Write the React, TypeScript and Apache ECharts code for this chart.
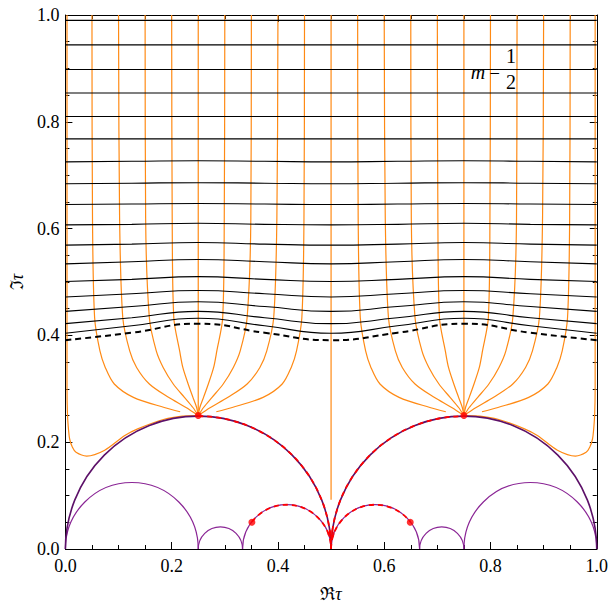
import React, { useEffect, useRef } from 'react';
import * as echarts from 'echarts';

// ---- data ----
// level curves (black): y at these x positions
const LEVEL_X = [0, 0.125, 0.25, 0.375, 0.5, 0.625, 0.75, 0.875, 1];
const LEVEL_CURVES: number[][] = [
  [0.990, 0.990, 0.990, 0.990, 0.990, 0.990, 0.990, 0.990, 0.990],
  [0.944, 0.944, 0.944, 0.944, 0.944, 0.944, 0.944, 0.944, 0.944],
  [0.898, 0.898, 0.898, 0.898, 0.898, 0.898, 0.898, 0.898, 0.898],
  [0.854, 0.854, 0.854, 0.854, 0.854, 0.854, 0.854, 0.854, 0.854],
  [0.810, 0.810, 0.810, 0.810, 0.810, 0.810, 0.810, 0.810, 0.810],
  [0.768, 0.768, 0.768, 0.768, 0.768, 0.768, 0.768, 0.768, 0.768],
  [0.725, 0.726, 0.727, 0.726, 0.725, 0.726, 0.727, 0.726, 0.725],
  [0.684, 0.685, 0.686, 0.685, 0.684, 0.685, 0.686, 0.685, 0.684],
  [0.645, 0.646, 0.647, 0.646, 0.645, 0.646, 0.647, 0.646, 0.645],
  [0.607, 0.608, 0.610, 0.608, 0.607, 0.608, 0.610, 0.608, 0.607],
  [0.569, 0.571, 0.574, 0.571, 0.569, 0.571, 0.574, 0.571, 0.569],
  [0.534, 0.538, 0.542, 0.538, 0.534, 0.538, 0.542, 0.538, 0.534],
  [0.501, 0.505, 0.510, 0.505, 0.501, 0.505, 0.510, 0.505, 0.501],
  [0.472, 0.478, 0.484, 0.478, 0.472, 0.478, 0.484, 0.478, 0.472],
  [0.445, 0.454, 0.463, 0.454, 0.445, 0.454, 0.463, 0.454, 0.445],
  [0.422, 0.433, 0.445, 0.433, 0.422, 0.433, 0.445, 0.433, 0.422],
  [0.404, 0.418, 0.432, 0.418, 0.404, 0.418, 0.432, 0.418, 0.404],
];
const CRITICAL_CURVE = [0.391, 0.405, 0.422, 0.405, 0.391, 0.405, 0.422, 0.405, 0.391];

// field lines (orange), left half; the figure is symmetric about Re tau = 1/2
const FIELD_NEAR_AXIS: number[][] = [
  [0.003, 1], [0.003, 0.7], [0.003, 0.5], [0.003, 0.4], [0.003, 0.3], [0.004, 0.25], [0.006, 0.222], [0.008, 0.206],
  [0.013, 0.191], [0.020, 0.181], [0.040, 0.174], [0.074, 0.185], [0.111, 0.212],
  [0.136, 0.225], [0.186, 0.243], [0.22, 0.249], [0.25, 0.25],
];
const FIELD_05: number[][] = [[0.05, 1], [0.051, 0.62], [0.055, 0.433], [0.065, 0.371], [0.075, 0.340], [0.092, 0.309], [0.128, 0.284], [0.186, 0.265], [0.216, 0.257]];
const FIELD_10: number[][] = [[0.1, 1], [0.102, 0.62], [0.108, 0.433], [0.121, 0.371], [0.134, 0.340], [0.158, 0.309], [0.194, 0.284], [0.227, 0.265], [0.25, 0.25]];
const FIELD_15: number[][] = [[0.15, 1], [0.151, 0.62], [0.158, 0.433], [0.171, 0.371], [0.184, 0.340], [0.203, 0.309], [0.224, 0.284], [0.240, 0.265], [0.25, 0.25]];
const FIELD_20: number[][] = [[0.2, 1], [0.201, 0.62], [0.204, 0.433], [0.215, 0.371], [0.221, 0.340], [0.231, 0.309], [0.240, 0.284], [0.247, 0.265], [0.25, 0.25]];
const FIELD_25: number[][] = [[0.25, 1], [0.25, 0.25]];
const FIELD_30: number[][] = [[0.3, 1], [0.299, 0.62], [0.296, 0.433], [0.285, 0.371], [0.279, 0.340], [0.269, 0.309], [0.260, 0.284], [0.253, 0.265], [0.25, 0.25]];
const FIELD_35: number[][] = [[0.35, 1], [0.349, 0.62], [0.342, 0.433], [0.329, 0.371], [0.316, 0.340], [0.297, 0.309], [0.276, 0.284], [0.260, 0.265], [0.25, 0.25]];
const FIELD_40: number[][] = [[0.4, 1], [0.398, 0.62], [0.392, 0.433], [0.379, 0.371], [0.366, 0.340], [0.342, 0.309], [0.306, 0.284], [0.273, 0.265], [0.25, 0.25]];
const FIELD_45: number[][] = [[0.45, 1], [0.449, 0.62], [0.445, 0.433], [0.435, 0.371], [0.425, 0.340], [0.408, 0.309], [0.372, 0.284], [0.314, 0.265], [0.284, 0.257]];
const FIELD_CENTER: number[][] = [[0.5, 1], [0.5, 0.092]];
const FIELD_LEFT = [FIELD_NEAR_AXIS, FIELD_05, FIELD_10, FIELD_15, FIELD_20, FIELD_25, FIELD_30, FIELD_35, FIELD_40, FIELD_45];

// semicircle arcs: [centre x, radius, start angle deg, end angle deg]
const BIG_ARCS = [[0.25, 0.25, 0, 180], [0.75, 0.25, 0, 180]];
const SMALL_ARCS = [
  [0.125, 0.125, 0, 180], [0.875, 0.125, 0, 180],
  [0.2917, 0.0417, 0, 180], [0.7083, 0.0417, 0, 180],
  [0.4167, 0.0833, 0, 180], [0.5833, 0.0833, 0, 180],
];
const RED_ARCS = [[0.25, 0.25, 0, 90], [0.75, 0.25, 90, 180], [0.4167, 0.0833, 0, 142], [0.5833, 0.0833, 38, 180]];
const RED_POINTS = [[0.25, 0.25], [0.75, 0.25], [0.351, 0.05], [0.649, 0.05], [0.5, 0.028]];

const TICK_LABEL = (v: number) => v.toFixed(1);
const SERIF = "'Liberation Serif', 'DejaVu Serif', serif";

function arcSeries(data: number[][], stroke: string, width: number, dash: number[] | null, z: number) {
  return {
    type: 'custom',
    coordinateSystem: 'cartesian2d',
    data,
    encode: { x: 0, y: 1 },
    silent: true,
    z,
    renderItem: (_p: any, api: any) => {
      const cx = api.value(0), r = api.value(1), a0 = api.value(2), a1 = api.value(3);
      const c = api.coord([cx, 0]);
      const rp = api.size([r, 0])[0];
      return {
        type: 'arc',
        shape: { cx: c[0], cy: c[1], r: rp, startAngle: (-a1 * Math.PI) / 180, endAngle: (-a0 * Math.PI) / 180, clockwise: true },
        style: { stroke, fill: 'none', lineWidth: width, lineDash: dash || undefined },
      };
    },
  };
}

export default function App() {
  const ref = useRef<HTMLDivElement>(null);
  useEffect(() => {
    const chart = echarts.init(ref.current!, null, { renderer: 'svg' });
    const series: any[] = [];
    const fieldLines = [
      ...FIELD_LEFT,
      ...FIELD_LEFT.map((l) => l.map(([x, y]) => [1 - x, y])),
      FIELD_CENTER,
    ];
    fieldLines.forEach((d) =>
      series.push({ type: 'line', data: d, smooth: 0.3, symbol: 'none', silent: true, z: 2, lineStyle: { color: '#ff8a14', width: 1.2 } })
    );
    LEVEL_CURVES.forEach((ys) =>
      series.push({ type: 'line', data: LEVEL_X.map((x, i) => [x, ys[i]]), smooth: true, symbol: 'none', silent: true, z: 3, lineStyle: { color: '#000', width: 1.1 } })
    );
    series.push({
      type: 'line', data: LEVEL_X.map((x, i) => [x, CRITICAL_CURVE[i]]), smooth: true, symbol: 'none', silent: true, z: 3,
      lineStyle: { color: '#000', width: 2, type: [6, 4] },
    });
    series.push(arcSeries(SMALL_ARCS, '#8a2595', 1.2, null, 4));
    series.push(arcSeries(BIG_ARCS, '#5c1068', 1.6, null, 4));
    series.push(arcSeries(RED_ARCS, '#ff0000', 1.8, [5, 4], 5));
    series.push({ type: 'scatter', data: RED_POINTS, symbolSize: 7, itemStyle: { color: '#ff0000' }, silent: true, z: 6 });

    const axisCommon = {
      type: 'value', min: 0, max: 1, interval: 0.2,
      axisLine: { show: true, onZero: false, lineStyle: { color: '#000', width: 1 } },
      axisTick: { show: true, inside: true, length: 7, lineStyle: { color: '#000' } },
      minorTick: { show: true, splitNumber: 4, length: 4, lineStyle: { color: '#000' } },
      splitLine: { show: false },
    };
    const nameRich = {
      a: { fontFamily: SERIF, fontSize: 18, color: '#000' },
      b: { fontFamily: SERIF, fontSize: 18, fontStyle: 'italic', color: '#000' },
    };
    chart.setOption({
      animation: false,
      backgroundColor: '#fff',
      grid: { left: 63, top: 15, width: 536, height: 537 },
      xAxis: [
        {
          ...axisCommon, position: 'bottom',
          axisLabel: { formatter: TICK_LABEL, color: '#000', fontFamily: SERIF, fontSize: 18, margin: 8 },
          name: '{a|ℜ}{b|τ}', nameLocation: 'middle', nameGap: 36,
          nameTextStyle: { rich: nameRich },
        },
        { ...axisCommon, position: 'top', axisLabel: { show: false } },
      ],
      yAxis: [
        {
          ...axisCommon, position: 'left',
          axisLabel: { formatter: TICK_LABEL, color: '#000', fontFamily: SERIF, fontSize: 18, margin: 6 },
          name: '{a|ℑ}{b|τ}', nameLocation: 'middle', nameGap: 38, nameRotate: 90,
          nameTextStyle: { rich: nameRich },
        },
        { ...axisCommon, position: 'right', axisLabel: { show: false } },
      ],
      graphic: [
        { type: 'text', x: 478, y: 72, z: 10, style: { text: 'm', fontFamily: SERIF, fontSize: 20, fontStyle: 'italic', fill: '#000', align: 'center', verticalAlign: 'middle' } },
        { type: 'text', x: 494.5, y: 71, z: 10, style: { text: '=', fontFamily: SERIF, fontSize: 19, fill: '#000', align: 'center', verticalAlign: 'middle' } },
        { type: 'text', x: 511, y: 56, z: 10, style: { text: '1', fontFamily: SERIF, fontSize: 20, fill: '#000', align: 'center', verticalAlign: 'middle' } },
        { type: 'text', x: 511, y: 82, z: 10, style: { text: '2', fontFamily: SERIF, fontSize: 20, fill: '#000', align: 'center', verticalAlign: 'middle' } },
      ],
      series,
    });
    return () => chart.dispose();
  }, []);
  return <div ref={ref} style={{ position: 'fixed', left: 0, top: 0, width: 611, height: 608, background: '#fff' }} />;
}
